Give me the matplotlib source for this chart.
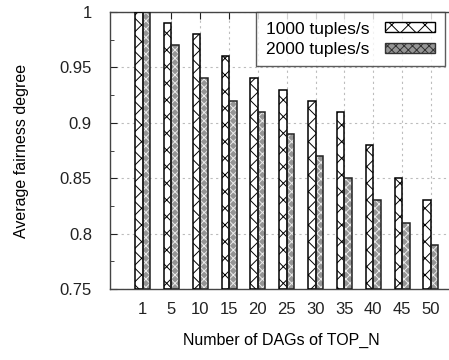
import matplotlib
matplotlib.use("Agg")
import matplotlib.pyplot as plt
import numpy as np
from matplotlib.ticker import FormatStrFormatter, MultipleLocator
from matplotlib.patches import Patch

categories = ["1", "5", "10", "15", "20", "25", "30", "35", "40", "45", "50"]
series_1000 = [1.00, 0.99, 0.98, 0.96, 0.94, 0.93, 0.92, 0.91, 0.88, 0.85, 0.83]
series_2000 = [1.00, 0.97, 0.94, 0.92, 0.91, 0.89, 0.87, 0.85, 0.83, 0.81, 0.79]
series_names = ["1000 tuples/s", "2000 tuples/s"]
yticks = [0.75, 0.8, 0.85, 0.9, 0.95, 1.0]

plt.rcParams['font.family'] = ['Liberation Sans', 'DejaVu Sans']
plt.rcParams['hatch.linewidth'] = 0.7

fig = plt.figure(figsize=(4.49, 3.6), dpi=100)
# axes extends slightly past the right border (right spine cropped in reference)
ax = fig.add_axes([110/449, 1-289/360, 342/449, 277/360])

x = np.arange(len(categories))
w = 0.26
base = 0.75

ax.bar(x - w/2, np.array(series_1000) - base, w, bottom=base, color='white',
       edgecolor='black', hatch='xx', linewidth=0, zorder=2)
ax.bar(x - w/2, np.array(series_1000) - base, w, bottom=base, fill=False,
       edgecolor='black', linewidth=1.1, zorder=3)
ax.bar(x + w/2, np.array(series_2000) - base, w, bottom=base, color='#959595',
       edgecolor='#ececec', hatch='xxxx', linewidth=0, zorder=2)
ax.bar(x + w/2, np.array(series_2000) - base, w, bottom=base, fill=False,
       edgecolor='#222222', linewidth=1.1, zorder=3)

ax.set_xlim(-1.13, 10.73)
ax.set_ylim(0.75, 1.0)
ax.set_xticks(x)
ax.set_xticklabels(categories)
ax.set_yticks(yticks)
ax.yaxis.set_major_formatter(FormatStrFormatter('%g'))
ax.yaxis.set_minor_locator(MultipleLocator(0.025))
ax.tick_params(axis='both', which='both', direction='in', top=True, right=False,
               labelsize=12, colors='#222222')
ax.tick_params(axis='y', which='major', length=5, pad=13)
ax.tick_params(axis='y', which='minor', length=3)
ax.tick_params(axis='x', which='major', length=5, pad=9)

ax.grid(True, which='major', color='#bcbcbc', linestyle=(0, (2, 3)), linewidth=0.8, zorder=0)
ax.set_axisbelow(True)
for s in ax.spines.values():
    s.set_color('#444444')
    s.set_linewidth(1.0)

ax.set_ylabel("Average fairness degree", fontsize=11.5, labelpad=22)
ax.set_xlabel("Number of DAGs of TOP_N", fontsize=11.5, labelpad=12)

handles = [Patch(facecolor='white', edgecolor='black', hatch='xx'),
           Patch(facecolor='#959595', edgecolor='#333333', hatch='xxxx')]
leg = ax.legend(handles, series_names, loc='upper right', markerfirst=False,
                fontsize=12.5, frameon=True, fancybox=False, borderaxespad=0,
                handlelength=2.9, handleheight=0.5, labelspacing=0.3,
                borderpad=0.55, handletextpad=0.9, bbox_to_anchor=((445-110)/342, 1.0))
leg.get_frame().set_edgecolor('#333333')
leg.get_frame().set_linewidth(1.0)
leg.set_zorder(5)

fig.savefig("out.png", dpi=100)
